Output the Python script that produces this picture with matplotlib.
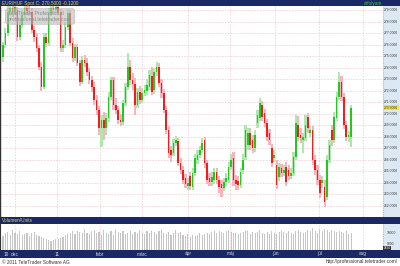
import matplotlib
matplotlib.use("Agg")
import matplotlib.pyplot as plt
import matplotlib.transforms as mtransforms
import numpy as np

# EUR/HUF daily candles (Nov 2010 - Aug 2011)
opens = [
    274.91, 275.96, 277.00, 278.83, 279.17, 278.83, 279.00, 276.65, 277.70, 278.57,
    279.17, 278.91, 278.83, 277.26, 276.65, 275.70, 274.04, 272.30, 276.65, 276.13,
    278.74, 279.17, 279.00, 279.26, 278.83, 275.70, 275.96, 277.52, 278.74, 276.13,
    274.83, 275.78, 274.39, 272.74, 274.65, 274.39, 273.61, 272.91, 272.30, 271.17,
    270.30, 268.74, 269.43, 268.74, 269.61, 271.43, 272.91, 270.74, 270.30, 269.43,
    269.26, 270.91, 272.30, 274.04, 272.91, 272.57, 270.74, 271.87, 271.17, 271.78,
    271.96, 272.30, 273.26, 272.04, 273.61, 274.04, 272.65, 271.78, 270.30, 268.57,
    266.83, 266.57, 267.43, 267.61, 265.70, 265.09, 264.39, 263.70, 264.57, 263.61,
    264.83, 265.96, 266.39, 266.83, 267.70, 265.70, 264.39, 264.04, 264.22, 264.91,
    264.22, 263.87, 263.52, 264.04, 264.22, 265.35, 266.13, 264.22, 264.13, 263.78,
    265.09, 266.22, 267.26, 268.30, 267.70, 267.00, 269.17, 269.61, 270.74, 270.04,
    269.17, 268.30, 267.00, 266.13, 265.52, 264.48, 265.26, 264.83, 265.35, 265.09,
    264.57, 264.83, 266.22, 269.00, 268.13, 267.70, 267.87, 269.70, 268.30, 268.57,
    265.96, 265.09, 264.22, 263.96, 263.61, 262.74, 265.96, 268.57, 267.70, 269.61,
    271.43, 272.74, 271.43, 269.00, 267.96, 267.96,
]
highs = [
    276.22, 277.43, 279.35, 279.52, 279.43, 279.52, 279.26, 278.13, 279.00, 279.52,
    279.43, 279.35, 279.17, 277.61, 277.00, 275.96, 274.48, 277.00, 277.00, 279.17,
    279.52, 279.52, 279.61, 279.52, 279.09, 276.39, 277.96, 279.09, 279.00, 276.57,
    276.04, 276.04, 274.65, 275.00, 275.09, 274.83, 273.96, 273.26, 272.74, 271.61,
    270.65, 269.87, 270.13, 270.04, 271.87, 273.17, 273.17, 271.35, 270.65, 269.96,
    271.17, 272.65, 275.26, 274.65, 273.52, 273.09, 272.22, 272.39, 272.22, 272.48,
    273.00, 273.78, 274.04, 273.96, 274.48, 274.39, 273.00, 272.13, 270.65, 268.91,
    267.17, 267.78, 268.04, 267.87, 266.13, 265.43, 264.74, 264.39, 264.91, 265.26,
    266.48, 266.83, 267.17, 267.87, 267.96, 265.96, 264.83, 264.91, 265.26, 265.26,
    264.57, 264.22, 264.39, 264.83, 265.78, 266.48, 266.65, 264.65, 264.57, 265.26,
    266.48, 269.00, 268.74, 268.74, 268.13, 268.57, 270.30, 271.35, 271.09, 270.39,
    269.52, 268.65, 267.35, 266.83, 265.96, 265.70, 265.61, 265.52, 265.78, 265.52,
    265.26, 266.65, 269.87, 269.78, 268.74, 268.30, 269.87, 270.04, 268.91, 268.91,
    266.39, 265.52, 264.65, 264.57, 264.22, 266.39, 267.70, 269.00, 270.13, 271.87,
    273.61, 273.26, 271.78, 269.35, 268.48, 270.74,
]
lows = [
    274.48, 275.70, 276.74, 278.48, 278.39, 278.57, 276.30, 276.39, 277.43, 278.30,
    278.57, 278.48, 277.00, 276.22, 275.35, 273.78, 271.96, 272.13, 275.78, 275.87,
    278.48, 278.65, 278.74, 278.57, 275.35, 275.35, 275.70, 277.26, 275.87, 274.48,
    274.57, 274.13, 272.39, 272.57, 274.04, 273.26, 272.57, 271.87, 270.74, 269.87,
    268.13, 267.09, 267.70, 268.13, 269.26, 271.17, 270.30, 269.96, 269.09, 268.91,
    269.00, 270.65, 272.04, 272.48, 272.04, 269.87, 270.48, 270.83, 270.91, 271.52,
    271.61, 272.04, 271.61, 271.70, 273.26, 272.30, 271.35, 270.04, 268.22, 266.13,
    265.78, 266.30, 267.17, 265.43, 264.74, 263.87, 263.52, 263.35, 263.35, 263.35,
    264.57, 265.61, 266.13, 266.57, 265.26, 263.87, 263.70, 263.70, 263.87, 263.87,
    263.09, 262.74, 263.26, 263.70, 263.96, 265.09, 263.70, 263.35, 263.35, 263.52,
    264.74, 265.96, 266.83, 266.83, 266.57, 266.65, 268.74, 269.35, 269.35, 268.83,
    267.61, 267.26, 265.35, 265.78, 263.43, 264.13, 264.48, 264.57, 263.70, 264.22,
    264.30, 264.57, 265.96, 267.61, 267.43, 266.57, 267.61, 268.30, 267.96, 265.52,
    264.65, 263.78, 262.65, 263.52, 261.87, 262.48, 265.70, 267.17, 267.43, 269.35,
    271.17, 271.09, 268.65, 267.61, 267.52, 267.09,
]
closes = [
    275.96, 277.00, 278.83, 279.17, 278.83, 279.26, 276.65, 277.70, 278.57, 279.17,
    278.91, 278.83, 277.26, 276.65, 275.70, 274.04, 272.30, 276.65, 276.13, 278.74,
    279.17, 279.00, 279.26, 278.83, 275.70, 275.96, 277.52, 278.74, 276.13, 274.83,
    275.78, 274.39, 272.74, 274.65, 274.39, 273.61, 272.91, 272.30, 271.17, 270.30,
    268.74, 269.43, 268.74, 269.61, 271.43, 272.91, 270.74, 270.30, 269.43, 269.26,
    270.91, 272.30, 274.04, 272.91, 272.57, 270.74, 271.87, 271.17, 271.78, 272.04,
    272.48, 273.35, 271.87, 273.61, 274.04, 272.65, 271.78, 270.30, 268.57, 266.57,
    266.39, 267.43, 267.70, 265.70, 265.09, 264.22, 263.87, 263.96, 263.70, 264.83,
    266.13, 266.39, 266.83, 267.43, 265.70, 264.22, 264.04, 264.48, 264.91, 264.22,
    263.61, 263.52, 264.04, 264.39, 265.35, 265.96, 264.22, 263.87, 263.78, 264.91,
    265.96, 268.57, 268.30, 267.26, 267.00, 268.13, 269.87, 270.91, 269.70, 269.17,
    267.96, 267.70, 265.70, 266.39, 263.78, 265.35, 264.83, 265.09, 264.04, 264.57,
    264.83, 266.22, 269.17, 267.96, 267.87, 267.96, 269.00, 268.74, 268.57, 265.96,
    265.09, 264.22, 263.09, 264.22, 262.30, 265.96, 267.26, 267.70, 269.70, 271.43,
    272.74, 271.43, 269.00, 267.96, 268.13, 270.50,
]
# volume in thousands of units
volume_k = [
    8.5, 9.8, 10.5, 9.2, 11.2, 10.0, 9.5, 10.8, 9.0, 9.6, 10.2, 8.8, 9.9, 10.6, 9.3, 8.7,
    8.0, 7.6, 7.2, 6.8, 6.5, 6.9, 7.4, 7.1, 7.8, 8.4, 9.0, 9.5, 10.1, 10.8,
    9.6, 11.0, 10.4, 9.8, 12.0, 10.2, 9.4, 10.9, 11.5, 9.9, 10.6, 9.2, 11.3, 10.0, 9.7,
    10.8, 9.3, 11.6, 10.4, 9.8, 10.9, 9.5, 10.2, 11.1, 9.6, 10.5, 9.9, 11.4, 10.1, 9.4,
    10.7, 9.8, 11.0, 10.3, 9.5, 10.8, 11.9, 10.2, 9.7, 10.6, 9.1, 10.0, 11.2, 9.8, 10.4,
    9.2, 8.8, 9.6, 8.4, 9.0, 8.6, 9.3, 9.8, 8.9, 9.5, 10.1, 9.7, 10.4, 10.9, 10.2,
    11.0, 10.5, 9.9, 10.8, 11.3, 10.6, 9.8, 10.2, 9.4, 9.9, 10.4, 11.1, 10.7, 9.6, 10.3,
    9.8, 10.6, 11.2, 10.1, 9.5, 10.4, 9.7, 10.9, 10.2, 9.6, 10.5, 11.0, 10.3, 9.9, 10.7,
    10.1, 9.4, 10.8, 11.5, 10.6, 9.9, 10.4, 11.3, 10.7, 12.1, 11.0, 10.2, 11.6, 10.8, 11.9,
    11.2, 10.5, 11.4, 10.9, 10.3, 11.1, 10.6, 10.0, 10.8, 9.7, 10.2,
]

month_labels = ["dec", "11", "febr", "márc", "ápr", "máj", "jún", "júl", "aug"]
month_pos = [5.0, 22.5, 40.4, 57.9, 77.1, 94.6, 113.3, 131.7, 150.0]
price_levels = list(range(262, 280))
last_price = 270.5

NAVY = "#1a2966"
BLUE_COL = "#dce9f4"
GRID = "#efd2d8"
FONT = "Liberation Sans"

W, H = 400, 266


def box(x0, y0, x1, y1):
    return [x0 / W, 1 - y1 / H, (x1 - x0) / W, (y1 - y0) / H]


def clean(a):
    a.set_xticks([])
    a.set_yticks([])
    for s in a.spines.values():
        s.set_visible(False)


o = np.array(opens)
h = np.array(highs)
l = np.array(lows)
c = np.array(closes)
x = np.arange(len(c))
up = c >= o

fig = plt.figure(figsize=(W / 100, H / 100), dpi=100)
fig.patch.set_facecolor("white")

# ---- price panel ----
ax = fig.add_axes(box(0, 6, 383, 217))
ax.set_xlim(-1.25, 158.3)
ax.set_ylim(261.0, 279.35)
for p in price_levels:
    ax.axhline(p, color=GRID, lw=0.6, ls=(0, (2, 1.5)), zorder=0)
for m in month_pos:
    ax.axvline(m, color=GRID, lw=0.6, ls=(0, (2, 1.5)), zorder=0)

pale = np.where(up, "#aee8ae", "#f8b4bc")
body = np.where(up, "#1ecb1e", "#fb1a1a")
ax.bar(x, h - l, bottom=l, width=0.9, color=pale, linewidth=0, zorder=2)
ax.bar(x, np.maximum(np.abs(c - o), 0.04), bottom=np.minimum(o, c), width=0.65,
       color=body, linewidth=0, zorder=3)

ax.set_xticks([])
ax.set_yticks(price_levels)
ax.tick_params(axis="y", direction="in", length=2, width=0.5, color="#333333",
               labelleft=False)
for s in ["top", "right", "bottom"]:
    ax.spines[s].set_visible(False)
ax.spines["left"].set_color("#333333")
ax.spines["left"].set_linewidth(1.0)

# watermark
ax.text(0.021, 0.975, "TeleTrader Professional\nprofessional.teletrader.com",
        transform=ax.transAxes, ha="left", va="top", fontsize=3.8,
        family=FONT, color="#8a8a8a", linespacing=1.1, zorder=5,
        bbox=dict(boxstyle="round,pad=0.5", fc="#bdbdbd", ec="#a8a8a8",
                  lw=0.5, alpha=0.6))

# right price scale
rax = fig.add_axes(box(383, 6, 400, 217), sharey=ax)
rax.set_facecolor(BLUE_COL)
clean(rax)
rax.axvline(0, color="#d6c650", lw=0.8, ls=(0, (1, 1)))
tr = mtransforms.blended_transform_factory(rax.transAxes, rax.transData)
for p in price_levels:
    rax.text(0.06, p, f"{p:.4f}", transform=tr, fontsize=2.4, family=FONT,
             color="#333333", va="center", ha="left")
rax.text(0.06, last_price, f"{last_price:.4f}", transform=tr, fontsize=2.4,
         family=FONT, color="#333333", va="center", ha="left", zorder=5,
         bbox=dict(boxstyle="square,pad=0.2", fc="#f2e33a", ec="none"))

# ---- header ----
hax = fig.add_axes(box(0, 0, 400, 6))
hax.set_facecolor(NAVY)
clean(hax)
hax.text(0.005, 0.45, "EUR/HUF Spot C: 270.5000 -0.1200", fontsize=3.4,
         family=FONT, color="#e0d84a", va="center", ha="left")
hax.text(0.955, 0.45, "árfolyam", fontsize=3.4, family=FONT,
         color="#3cc43c", va="center", ha="right")

# ---- volume ----
vhax = fig.add_axes(box(0, 217, 400, 224))
vhax.set_facecolor(NAVY)
clean(vhax)
vhax.text(0.005, 0.45, "Volumen/Units", fontsize=3.4, family=FONT,
          color="#e0d84a", va="center", ha="left")

vax = fig.add_axes(box(0, 224, 383, 250), sharex=ax)
vax.set_ylim(2270, 14090)
vax.bar(x, np.array(volume_k) * 1000, width=0.45, color="#c6c6c6",
        linewidth=0, zorder=2)
for m in month_pos:
    vax.axvline(m, color=GRID, lw=0.6, ls=(0, (2, 1.5)), zorder=0)
vax.set_yticks([5000, 10000])
vax.tick_params(axis="y", direction="in", length=2, width=0.5, labelleft=False)
vax.tick_params(axis="x", bottom=False, labelbottom=False)
for s in ["top", "right", "bottom"]:
    vax.spines[s].set_visible(False)
vax.spines["left"].set_color("#333333")

vrax = fig.add_axes(box(383, 224, 400, 250), sharey=vax)
vrax.set_facecolor(BLUE_COL)
clean(vrax)
vrax.axvline(0, color="#d6c650", lw=0.8, ls=(0, (1, 1)))
vtr = mtransforms.blended_transform_factory(vrax.transAxes, vrax.transData)
for v in [10000, 5000]:
    vrax.text(0.2, v, str(v), transform=vtr, fontsize=2.4, family=FONT,
              color="#333333", va="center", ha="left")
vrax.text(0.06, 3000, "3434", transform=vtr, fontsize=2.2, family=FONT,
          color="white", va="center", ha="left",
          bbox=dict(boxstyle="square,pad=0.2", fc="#333333", ec="none"))

# ---- date band ----
dax = fig.add_axes(box(0, 250, 400, 258))
dax.set_facecolor(NAVY)
clean(dax)
dax.set_xlim(-1.25, -1.25 + (158.3 + 1.25) * 400 / 383)
dax.set_ylim(0, 1)
dax.text(0.3, 0.5, "10", fontsize=3.4, family=FONT, color="#d8d8e8",
         va="center", ha="left")
for lab, m in zip(month_labels, month_pos):
    dax.text(m, 0.5, lab, fontsize=3.4, family=FONT, color="#d8d8e8",
             va="center", ha="center")

# ---- footer ----
fig.text(2 / W, 1 - 262 / H, "© 2011 TeleTrader Software AG", fontsize=3.4,
         family=FONT, color="#333333", va="center", ha="left")
fig.text(398 / W, 1 - 262 / H, "http://professional.teletrader.com/",
         fontsize=3.4, family=FONT, color="#333333", va="center", ha="right")

fig.savefig("out.png", dpi=100)
